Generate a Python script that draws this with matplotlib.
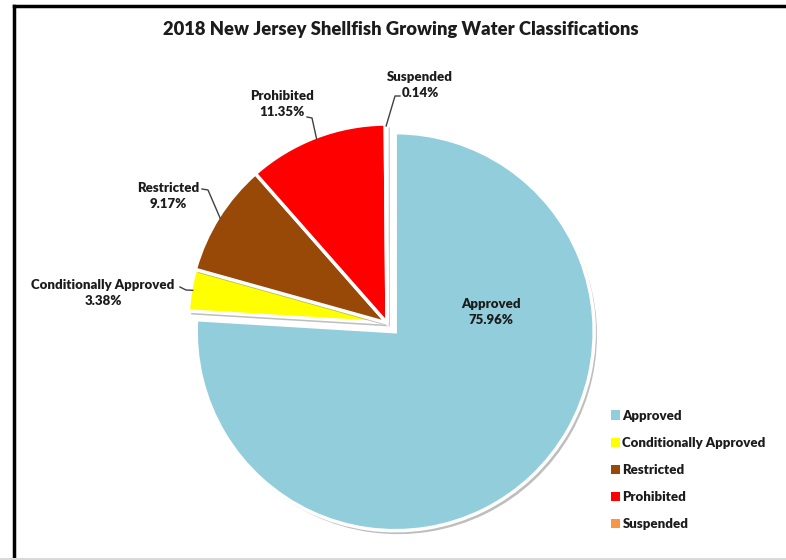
import numpy as np
import matplotlib.pyplot as plt
import matplotlib.patheffects as pe
from matplotlib.lines import Line2D

plt.rcParams['font.family'] = ['Lato', 'DejaVu Sans']
plt.rcParams['font.weight'] = 'heavy'

categories = ['Approved', 'Conditionally Approved', 'Restricted', 'Prohibited', 'Suspended']
shares = [75.96, 3.38, 9.17, 11.35, 0.14]
colors = ['#92cddc', '#ffff00', '#984807', '#ff0000', '#f79646']
title = '2018 New Jersey Shellfish Growing Water Classifications'

fig = plt.figure(figsize=(7.86, 5.6), dpi=100)

# pie axes: 1 data unit ~ 199 px, centre at (387, 323) px
R = 199.0
half = 1.3
size = 2 * half * R
cx, cy = 387.0, 560 - 323.0
ax = fig.add_axes([(cx - size / 2) / 786, (cy - size / 2) / 560, size / 786, size / 560])

shadow = [pe.SimplePatchShadow(offset=(2, -2.5), shadow_rgbFace='#8a8a8a', alpha=0.55), pe.Normal()]
wedges, _ = ax.pie(shares, colors=colors, startangle=90, counterclock=False,
                   explode=[0.06, 0, 0, 0, 0], radius=1.0,
                   wedgeprops=dict(edgecolor='white', linewidth=2.5, path_effects=shadow))
ax.set_xlim(-half, half)
ax.set_ylim(-half, half)
ax.set_aspect('equal')
ax.axis('off')

def px(x, y):
    return ((x - cx) / R, ((560 - y) - cy) / R)

fs = 9.5
txt = '#1c1c1c'
# inside label for the big slice
ax.text(*px(491, 312), f'{categories[0]}\n{shares[0]:.2f}%', ha='center', va='center',
        fontsize=fs, fontweight='heavy', color=txt, linespacing=1.45)

# outside labels, leader: short horizontal stub at the text, then to the slice mid-arc
label_pos = {1: (103, 293), 2: (168, 196), 3: (282, 104), 4: (420, 85)}
stub = {1: ((180, 287), (186, 290)), 2: ((202, 189), (208, 190)),
        3: ((307, 117), (312, 118)), 4: ((400, 96), (395, 96))}
for i, (lx, ly) in label_pos.items():
    w = wedges[i]
    mid = np.deg2rad((w.theta1 + w.theta2) / 2)
    tip = (np.cos(mid) * 0.99, np.sin(mid) * 0.99)
    ax.text(*px(lx, ly), f'{categories[i]}\n{shares[i]:.2f}%', ha='center', va='center',
            fontsize=fs, fontweight='heavy', color=txt, linespacing=1.45)
    a, b = px(*stub[i][0]), px(*stub[i][1])
    ax.plot([a[0], b[0], tip[0]], [a[1], b[1], tip[1]], color='#404040', lw=1)

fig.text(401 / 786, 1 - 30 / 560, title, ha='center', va='center',
         fontsize=13.2, fontweight='heavy', color=txt)

leg = fig.legend(wedges, categories, loc='upper left', bbox_to_anchor=(604 / 786, 1 - 403 / 560),
                 frameon=False, fontsize=fs, handlelength=0.7, handleheight=0.7,
                 handletextpad=0.2, labelspacing=1.15, borderpad=0)
for t in leg.get_texts():
    t.set_fontweight('heavy')
    t.set_color(txt)
for h in leg.legend_handles:
    h.set_edgecolor('none')
    h.set_path_effects([])

# chart border
fig.add_artist(Line2D([14 / 786, 14 / 786], [0, 1 - 6 / 560], transform=fig.transFigure, color='black', lw=2.5))
fig.add_artist(Line2D([14 / 786, 1], [1 - 6 / 560, 1 - 6 / 560], transform=fig.transFigure, color='black', lw=2.5))
fig.add_artist(Line2D([0, 1], [1.5 / 560, 1.5 / 560], transform=fig.transFigure, color='#d9d9d9', lw=1.5))

fig.savefig('out.png', dpi=100, facecolor='white')
